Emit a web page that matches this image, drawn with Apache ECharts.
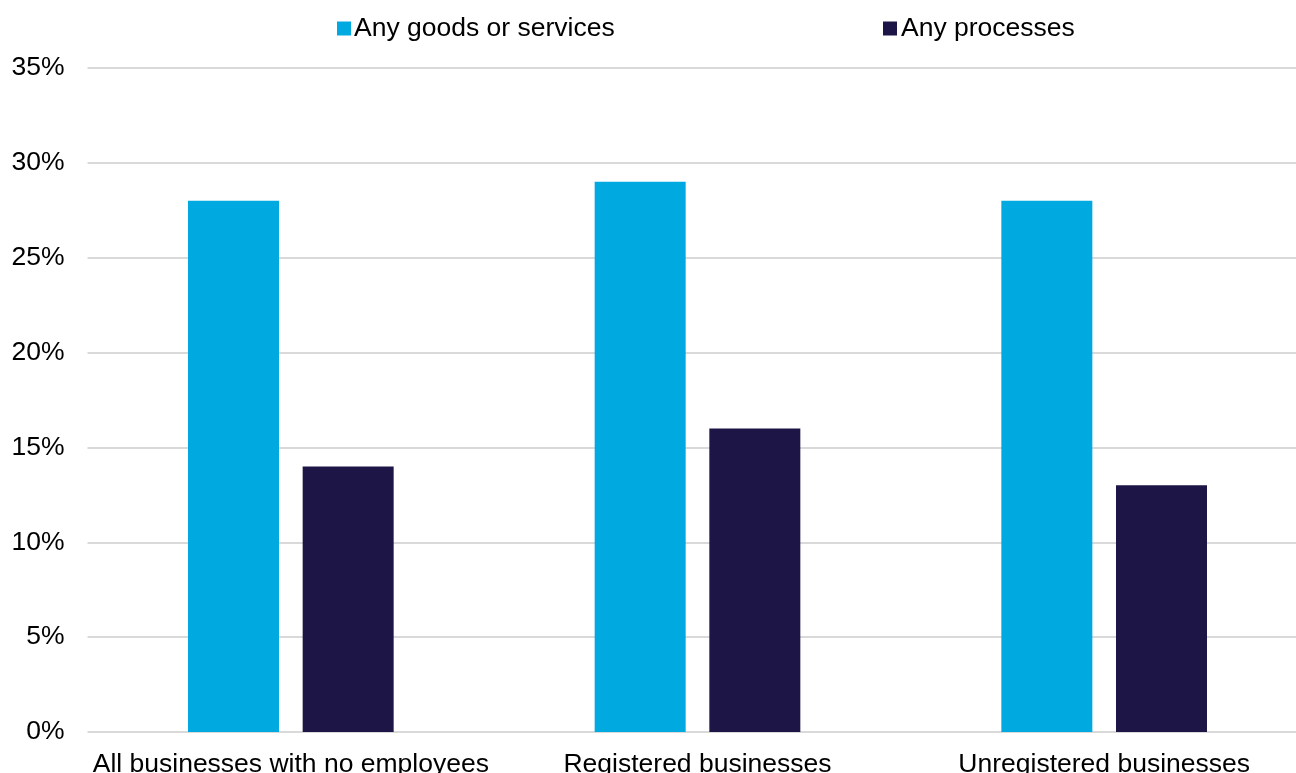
<!DOCTYPE html>
<html>
<head>
<meta charset="utf-8">
<script src="https://cdn.jsdelivr.net/npm/echarts@6/dist/echarts.min.js"></script>
<style>
  html, body { margin: 0; padding: 0; background: #ffffff; }
  #chart { width: 1296px; height: 773px; }
</style>
</head>
<body>
<div id="chart"></div>
<script>
// Share of businesses introducing innovations, by registration status
const categories = ['All businesses with no employees', 'Registered businesses', 'Unregistered businesses'];
const goodsOrServices = [28, 29, 28];
const processes = [14, 16, 13];
const seriesNames = ['Any goods or services', 'Any processes'];
const yTicks = { min: 0, max: 35, interval: 5 };

const FONT = '"Liberation Sans", Arial, sans-serif';
const FS = 26.5;
const COLORS = ['#00AAE0', '#1E1547'];

const chart = echarts.init(document.getElementById('chart'), null, { renderer: 'canvas' });

const legendText = { fontFamily: FONT, fontSize: FS, color: '#000000' };

chart.setOption({
  animation: false,
  backgroundColor: '#ffffff',
  color: COLORS,
  textStyle: { fontFamily: FONT },
  legend: [
    {
      data: [seriesNames[0]], left: 332, top: 10,
      icon: 'rect', itemWidth: 14, itemHeight: 14, itemGap: 0,
      textStyle: Object.assign({ padding: [0, 0, 0, -2] }, legendText)
    },
    {
      data: [seriesNames[1]], left: 878, top: 10,
      icon: 'rect', itemWidth: 14, itemHeight: 14, itemGap: 0,
      textStyle: Object.assign({ padding: [0, 0, 0, -1] }, legendText)
    }
  ],
  // the plot runs slightly past the right edge of the canvas; labels may overflow
  grid: { left: 87.5, width: 1220, top: 68, bottom: 41, containLabel: false, outerBoundsMode: 'none' },
  xAxis: {
    type: 'category',
    data: categories,
    axisLine: { show: false },
    axisTick: { show: false },
    axisLabel: { margin: 19, fontFamily: FONT, fontSize: FS, color: '#000000', interval: 0 },
    splitLine: { show: false }
  },
  yAxis: {
    type: 'value',
    min: yTicks.min, max: yTicks.max, interval: yTicks.interval,
    axisLine: { show: false },
    axisTick: { show: false },
    axisLabel: { margin: 23, fontFamily: FONT, fontSize: FS, color: '#000000', formatter: v => v + '%' },
    splitLine: { show: true, lineStyle: { color: '#d9d9d9', width: 2 } }
  },
  series: [
    { name: seriesNames[0], type: 'bar', data: goodsOrServices, barWidth: 91, barGap: '26%', itemStyle: { color: COLORS[0] } },
    { name: seriesNames[1], type: 'bar', data: processes, barWidth: 91, barGap: '26%', itemStyle: { color: COLORS[1] } }
  ]
});
</script>
</body>
</html>
